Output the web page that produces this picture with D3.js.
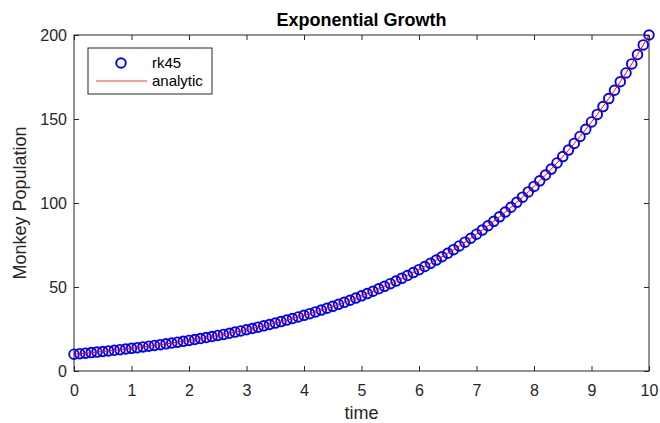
<html>
  <head>
    <style>
      body {
        margin: 0;
        font-family: Helvetica, Arial, "Liberation Sans", sans-serif;
        background: white;
      }
    </style>
    <script src="https://cdn.jsdelivr.net/npm/d3@7"></script>
  </head>
  <body>
    <svg id="chart"></svg>
  </body>
  <script>
    // time points (rk45 output grid)
    let timeValues = [
      0, 0.1, 0.2, 0.3, 0.4, 0.5, 0.6, 0.7, 0.8, 0.9,
      1, 1.1, 1.2, 1.3, 1.4, 1.5, 1.6, 1.7, 1.8, 1.9,
      2, 2.1, 2.2, 2.3, 2.4, 2.5, 2.6, 2.7, 2.8, 2.9,
      3, 3.1, 3.2, 3.3, 3.4, 3.5, 3.6, 3.7, 3.8, 3.9,
      4, 4.1, 4.2, 4.3, 4.4, 4.5, 4.6, 4.7, 4.8, 4.9,
      5, 5.1, 5.2, 5.3, 5.4, 5.5, 5.6, 5.7, 5.8, 5.9,
      6, 6.1, 6.2, 6.3, 6.4, 6.5, 6.6, 6.7, 6.8, 6.9,
      7, 7.1, 7.2, 7.3, 7.4, 7.5, 7.6, 7.7, 7.8, 7.9,
      8, 8.1, 8.2, 8.3, 8.4, 8.5, 8.6, 8.7, 8.8, 8.9,
      9, 9.1, 9.2, 9.3, 9.4, 9.5, 9.6, 9.7, 9.8, 9.9,
      10,
    ];

    // rk45 population values
    let rk45Values = [
      10.0, 10.3, 10.62, 10.94, 11.27, 11.62, 11.97, 12.33, 12.71, 13.09,
      13.49, 13.9, 14.33, 14.76, 15.21, 15.67, 16.15, 16.64, 17.15, 17.67,
      18.21, 18.76, 19.33, 19.92, 20.52, 21.15, 21.79, 22.45, 23.14, 23.84,
      24.56, 25.31, 26.08, 26.87, 27.69, 28.53, 29.4, 30.3, 31.22, 32.17,
      33.14, 34.15, 35.19, 36.26, 37.36, 38.5, 39.67, 40.88, 42.12, 43.4,
      44.72, 46.08, 47.48, 48.93, 50.41, 51.95, 53.53, 55.16, 56.83, 58.56,
      60.34, 62.18, 64.07, 66.02, 68.02, 70.09, 72.22, 74.42, 76.68, 79.02,
      81.42, 83.89, 86.45, 89.07, 91.78, 94.57, 97.45, 100.41, 103.47, 106.61,
      109.86, 113.2, 116.64, 120.19, 123.84, 127.61, 131.49, 135.49, 139.61, 143.85,
      148.23, 152.73, 157.38, 162.16, 167.1, 172.18, 177.41, 182.81, 188.37, 194.1,
      200.0,
    ];

    // analytic solution at the same times
    let analyticValues = [
      10.0, 10.3, 10.62, 10.94, 11.27, 11.62, 11.97, 12.33, 12.71, 13.09,
      13.49, 13.9, 14.33, 14.76, 15.21, 15.67, 16.15, 16.64, 17.15, 17.67,
      18.21, 18.76, 19.33, 19.92, 20.52, 21.15, 21.79, 22.45, 23.14, 23.84,
      24.56, 25.31, 26.08, 26.87, 27.69, 28.53, 29.4, 30.3, 31.22, 32.17,
      33.14, 34.15, 35.19, 36.26, 37.36, 38.5, 39.67, 40.88, 42.12, 43.4,
      44.72, 46.08, 47.48, 48.93, 50.41, 51.95, 53.53, 55.16, 56.83, 58.56,
      60.34, 62.18, 64.07, 66.02, 68.02, 70.09, 72.22, 74.42, 76.68, 79.02,
      81.42, 83.89, 86.45, 89.07, 91.78, 94.57, 97.45, 100.41, 103.47, 106.61,
      109.86, 113.2, 116.64, 120.19, 123.84, 127.61, 131.49, 135.49, 139.61, 143.85,
      148.23, 152.73, 157.38, 162.16, 167.1, 172.18, 177.41, 182.81, 188.37, 194.1,
      200.0,
    ];

    let xTicks = [0, 1, 2, 3, 4, 5, 6, 7, 8, 9, 10];
    let yTicks = [0, 50, 100, 150, 200];
    let legendLabels = ["rk45", "analytic"];

    function getConfig() {
      let width = 660;
      let height = 423;
      let margin = { top: 35, bottom: 52, left: 74, right: 11 };
      let bodyWidth = width - margin.left - margin.right;
      let bodyHeight = height - margin.top - margin.bottom;
      let container = d3.select("#chart");
      container.attr("width", width).attr("height", height);
      return { width, height, margin, bodyWidth, bodyHeight, container };
    }

    function getScales(config) {
      let { bodyWidth, bodyHeight } = config;
      let xScale = d3.scaleLinear().domain([0, 10]).range([0, bodyWidth]);
      let yScale = d3.scaleLinear().domain([0, 200]).range([bodyHeight, 0]);
      return { xScale, yScale };
    }

    function styleAxis(g) {
      g.select(".domain").remove();
      g.selectAll("line").attr("stroke", "#262626");
      g.selectAll("text")
        .attr("fill", "#262626")
        .style("font-size", "16px")
        .style("font-family", "Helvetica, Arial, 'Liberation Sans', sans-serif");
    }

    function drawAxes(scales, config) {
      let { xScale, yScale } = scales;
      let { container, margin, bodyWidth, bodyHeight } = config;
      let body = container
        .append("g")
        .attr("transform", `translate(${margin.left},${margin.top})`);

      // bottom and left axes, ticks pointing inward like matlab
      body
        .append("g")
        .attr("transform", `translate(0,${bodyHeight})`)
        .call(d3.axisBottom(xScale).tickValues(xTicks).tickSize(-5).tickPadding(14))
        .call(styleAxis);
      body
        .append("g")
        .call(d3.axisLeft(yScale).tickValues(yTicks).tickSize(-5).tickPadding(7))
        .call(styleAxis);

      // top and right ticks without labels
      body
        .append("g")
        .call(d3.axisTop(xScale).tickValues(xTicks).tickSize(-5).tickFormat(""))
        .call(styleAxis);
      body
        .append("g")
        .attr("transform", `translate(${bodyWidth},0)`)
        .call(d3.axisRight(yScale).tickValues(yTicks).tickSize(-5).tickFormat(""))
        .call(styleAxis);

      body
        .append("rect")
        .attr("x", 0)
        .attr("y", 0)
        .attr("width", bodyWidth)
        .attr("height", bodyHeight)
        .attr("fill", "none")
        .attr("stroke", "#262626")
        .attr("stroke-width", 1);
      return body;
    }

    function drawSeries(body, scales) {
      let { xScale, yScale } = scales;
      let points = timeValues.map((t, i) => ({ t, rk: rk45Values[i], an: analyticValues[i] }));

      body
        .selectAll(".marker")
        .data(points)
        .enter()
        .append("circle")
        .attr("class", "marker")
        .attr("cx", (d) => xScale(d.t))
        .attr("cy", (d) => yScale(d.rk))
        .attr("r", 4.8)
        .attr("fill", "none")
        .attr("stroke", "#0000ff")
        .attr("stroke-width", 1.9);

      let line = d3
        .line()
        .x((d) => xScale(d.t))
        .y((d) => yScale(d.an));

      body
        .append("path")
        .datum(points)
        .attr("d", line)
        .attr("fill", "none")
        .attr("stroke", "#ff0000")
        .attr("stroke-width", 1);
    }

    function drawLegend(config) {
      let { container } = config;
      let legend = container.append("g").attr("transform", "translate(88,48)");
      legend
        .append("rect")
        .attr("width", 124)
        .attr("height", 46)
        .attr("fill", "white")
        .attr("stroke", "#262626")
        .attr("stroke-width", 1);
      legend
        .append("circle")
        .attr("cx", 33)
        .attr("cy", 15)
        .attr("r", 4.8)
        .attr("fill", "none")
        .attr("stroke", "#0000ff")
        .attr("stroke-width", 1.9);
      legend
        .append("line")
        .attr("x1", 8)
        .attr("x2", 59)
        .attr("y1", 33)
        .attr("y2", 33)
        .attr("stroke", "#ff7777")
        .attr("stroke-width", 1.5);
      legend
        .selectAll(".legendText")
        .data(legendLabels)
        .enter()
        .append("text")
        .attr("class", "legendText")
        .attr("x", 64)
        .attr("y", (d, i) => 20 + i * 18)
        .attr("fill", "#000")
        .style("font-size", "15px")
        .text((d) => d);
    }

    function drawLabels(config) {
      let { container, margin, bodyWidth, bodyHeight } = config;
      let cx = margin.left + bodyWidth / 2;
      container
        .append("text")
        .attr("x", cx)
        .attr("y", 26)
        .attr("text-anchor", "middle")
        .style("font-size", "18px")
        .style("font-weight", "bold")
        .attr("fill", "#000")
        .text("Exponential Growth");
      container
        .append("text")
        .attr("x", cx)
        .attr("y", 419)
        .attr("text-anchor", "middle")
        .style("font-size", "18px")
        .attr("fill", "#262626")
        .text("time");
      container
        .append("text")
        .attr("transform", `translate(26,${margin.top + bodyHeight / 2}) rotate(-90)`)
        .attr("text-anchor", "middle")
        .style("font-size", "18px")
        .attr("fill", "#262626")
        .text("Monkey Population");
    }

    function showChart() {
      let config = getConfig();
      let scales = getScales(config);
      let body = drawAxes(scales, config);
      drawSeries(body, scales);
      drawLegend(config);
      drawLabels(config);
    }

    showChart();
  </script>
</html>
